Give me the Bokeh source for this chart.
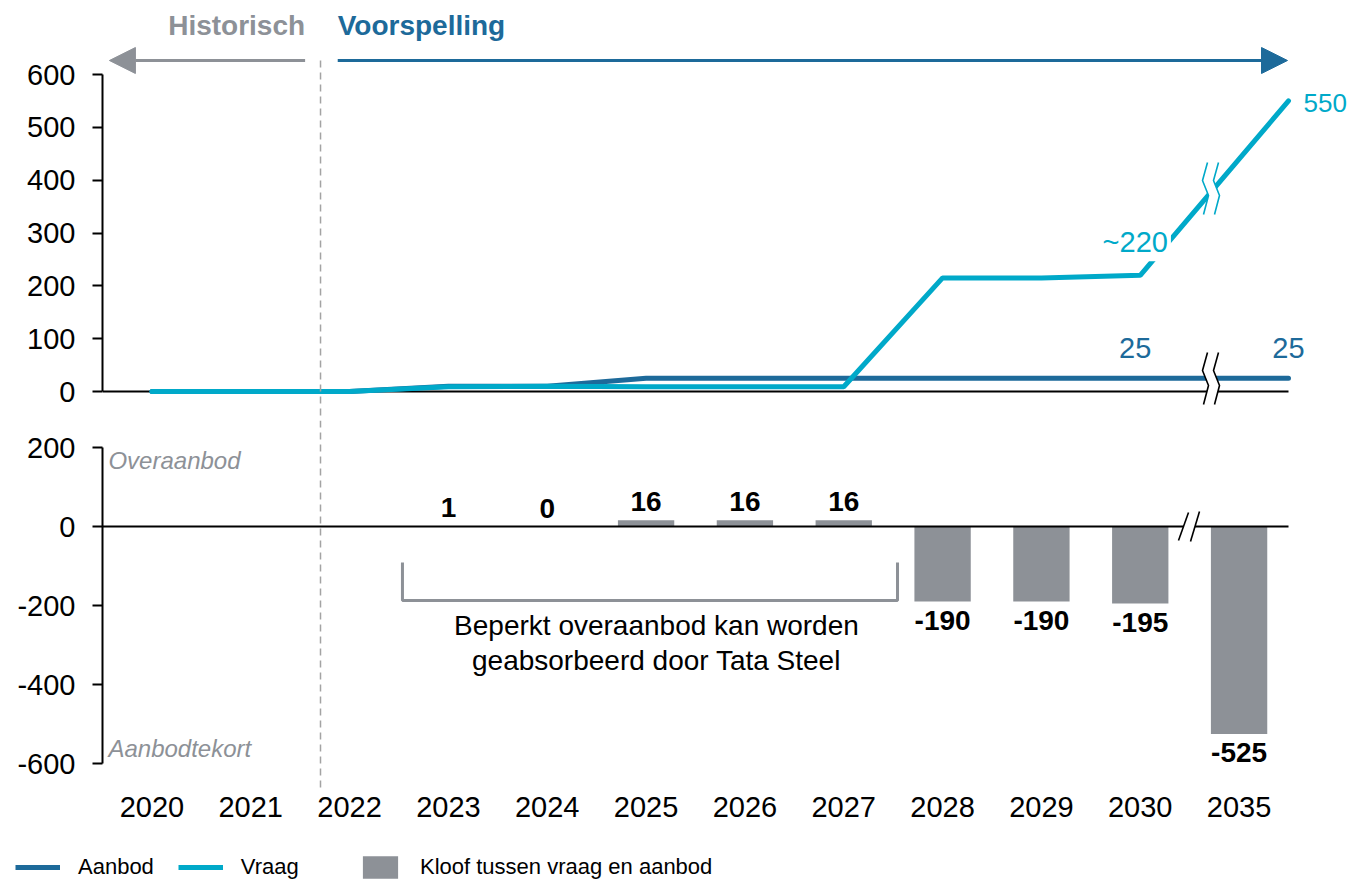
from bokeh.plotting import figure
from bokeh.models import (Range1d, FixedTicker, ColumnDataSource, Arrow,
                          NormalHead, Legend, LegendItem)
from bokeh.layouts import column
from bokeh.embed import file_html
from bokeh.resources import INLINE
from bokeh.core.properties import value

# ---------------- data ----------------
years = ["2020", "2021", "2022", "2023", "2024", "2025", "2026", "2027", "2028", "2029", "2030", "2035"]
aanbod = [0, 0, 0, 10, 10, 25, 25, 25, 25, 25, 25, 25]
vraag = [0, 0, 0, 9, 10, 9, 9, 9, 215, 215, 220, 550]
gap_years = ["2023", "2024", "2025", "2026", "2027", "2028", "2029", "2030", "2035"]
gap = [1, 0, 16, 16, 16, -190, -190, -195, -525]
top_ticks = [0, 100, 200, 300, 400, 500, 600]
bottom_ticks = [-600, -400, -200, 0, 200]
bottom_tick_labels = ["-600", "-400", "-200", "0", "200"]
end_labels = ["25", "25", "~220", "550"]

# ---------------- style ----------------
FONT = "'Liberation Sans', Arial, sans-serif"
BLUE = "#1d6a9a"
CYAN = "#00a9c9"
GRAY = "#8d9197"
DGRAY = "#a3a3a3"

W = 1347
BL = 102                      # frame left (page px)
N = len(years)
CAT = 1186 / N                # px per category
xpos = [i + 0.5 for i in range(N)]          # category centres
x_range = Range1d(0, (W - BL) / CAT)
kx = 1.0 / CAT

def base_fig(height, y_range, **kw):
    p = figure(width=W, height=height, x_range=x_range, y_range=y_range,
               output_backend="svg", toolbar_location=None,
               min_border_left=BL, min_border_right=0, min_border_top=0, **kw)
    p.outline_line_color = None
    p.xgrid.visible = False
    p.ygrid.visible = False
    p.background_fill_color = "white"
    p.border_fill_color = "white"
    return p

def style_yaxis(p, ticks, bounds):
    ax = p.yaxis[0]
    ax.ticker = FixedTicker(ticks=ticks)
    ax.bounds = bounds
    ax.axis_line_width = 2
    ax.axis_line_color = "black"
    ax.major_tick_out = 10
    ax.major_tick_in = 0
    ax.major_tick_line_width = 2
    ax.minor_tick_line_color = None
    ax.major_label_text_font = FONT
    ax.major_label_text_font_size = "29px"
    ax.major_label_text_color = "black"
    ax.major_label_standoff = 17

# ---------------- top chart ----------------
TOP_H = 420
top_ppu = (391 - 74) / 600.0          # px per unit
ky1 = 1.0 / top_ppu
y1_start = -(TOP_H - 391) * ky1
y1_end = 391 * ky1
p1 = base_fig(TOP_H, Range1d(y1_start, y1_end), min_border_bottom=0, x_axis_location=None)
style_yaxis(p1, top_ticks, (0, 600))

line_x = xpos[:-1] + [float(N)]
src_top = ColumnDataSource(dict(x=line_x, aanbod=aanbod, vraag=vraag))

p1.segment(x0=[0], y0=[0], x1=[N], y1=[0], line_color="black", line_width=2)
p1.line("x", "aanbod", source=src_top, line_color=BLUE, line_width=5, line_cap="round")
p1.line("x", "vraag", source=src_top, line_color=CYAN, line_width=5, line_cap="round")

# divider historisch / voorspelling
x_div = 2.206
y_arrow = (391 - 60) * ky1
p1.segment(x0=[x_div], y0=[y_arrow], x1=[x_div], y1=[y1_start - 10],
           line_color=DGRAY, line_width=1.5, line_dash="7 5")

p1.add_layout(Arrow(x_start=2.05, y_start=y_arrow, x_end=0.07, y_end=y_arrow,
                    line_color=GRAY, line_width=3,
                    end=NormalHead(size=26, fill_color=GRAY, line_color=GRAY)))
p1.add_layout(Arrow(x_start=2.38, y_start=y_arrow, x_end=11.99, y_end=y_arrow,
                    line_color=BLUE, line_width=3,
                    end=NormalHead(size=26, fill_color=BLUE, line_color=BLUE)))
y_head = (391 - 25) * ky1
p1.text(x=[2.05], y=[y_head], text=["Historisch"], text_align="right", text_baseline="middle",
        text_font=value(FONT), text_font_style="bold", text_font_size="28px", text_color=GRAY)
p1.text(x=[2.38], y=[y_head], text=["Voorspelling"], text_align="left", text_baseline="middle",
        text_font=value(FONT), text_font_style="bold", text_font_size="28px", text_color=BLUE)

# end labels
lab_src = ColumnDataSource(dict(
    x=[line_x[-2], line_x[-1], line_x[-2], line_x[-1]],
    y=[aanbod[-2], aanbod[-1], vraag[-2], vraag[-1]],
    text=end_labels,
    color=[BLUE, BLUE, CYAN, CYAN],
    align=["center", "center", "center", "left"],
    baseline=["bottom", "bottom", "bottom", "middle"],
    size=["29px", "29px", "29px", "26px"],
    xo=[-5, 0, -5, 12],
    yo=[-17, -17, -14, 2],
))
p1.text("x", "y", text="text", source=lab_src, text_color="color", text_align="align",
        text_baseline="baseline", x_offset="xo", y_offset="yo",
        text_font=value(FONT), text_font_size="size",
        background_fill_color="white", padding=3)

# axis breaks (top)
def zig(cx_px, cy_px):
    pts = [(2, -26), (-3, -8), (3, 7), (-2, 26)]
    xs = [(cx_px + dx - BL) * kx for dx, dy in pts]
    ys = [(391 - (cy_px + dy)) * ky1 for dx, dy in pts]
    return xs, ys

for cy, col in [(378, "black"), (188, CYAN)]:
    xa, ya = zig(1205, cy)
    xb, yb = zig(1216, cy)
    p1.patch(xa + xb[::-1], ya + yb[::-1], fill_color="white", line_color=None)
    p1.line(xa, ya, line_color=col, line_width=1.6)
    p1.line(xb, yb, line_color=col, line_width=1.6)

# ---------------- bottom chart ----------------
BOT_TOP = 420
BOT_H = 425
FRAME_BOT = 790
bot_ppu = (763 - 447) / 800.0
ky2 = 1.0 / bot_ppu
y2_end = 200 + (447 - BOT_TOP) * ky2
y2_start = -600 - (FRAME_BOT - 763) * ky2
p2 = base_fig(BOT_H, Range1d(y2_start, y2_end), min_border_bottom=BOT_TOP + BOT_H - FRAME_BOT)
style_yaxis(p2, bottom_ticks, (-600, 200))
p2.yaxis[0].major_label_overrides = dict(zip(bottom_ticks, bottom_tick_labels))

xa = p2.xaxis[0]
xa.ticker = FixedTicker(ticks=xpos)
xa.major_label_overrides = dict(zip(xpos, years))
xa.axis_line_color = None
xa.major_tick_line_color = None
xa.minor_tick_line_color = None
xa.major_label_text_font = FONT
xa.major_label_text_font_size = "29px"
xa.major_label_text_color = "black"
xa.major_label_standoff = 0

p2.vspan(x=[x_div], line_color=DGRAY, line_width=1.5, line_dash="7 5")

bar_x = [xpos[years.index(g)] for g in gap_years]
src_gap = ColumnDataSource(dict(
    x=bar_x, v=gap, lab=[str(g) for g in gap],
    base=["bottom" if g >= 0 else "top" for g in gap],
    off=[-9 if g >= 0 else 9 for g in gap],
))
p2.vbar(x="x", top="v", bottom=0, width=0.57, source=src_gap,
        fill_color=GRAY, line_color=None)
p2.segment(x0=[0], y0=[0], x1=[N], y1=[0], line_color="black", line_width=2)
p2.text("x", "v", text="lab", source=src_gap, text_baseline="base", y_offset="off",
        text_align="center", text_font=value(FONT), text_font_style="bold",
        text_font_size="28px", text_color="black")

def bx(px):
    return (px - BL) * kx
def by(py):
    return (526 - py) * ky2

# bottom break
p2.patch([bx(1178), bx(1188), bx(1199), bx(1190)], [by(540), by(512), by(511), by(541)],
         fill_color="white", line_color=None)
for x0, y0, x1, y1 in [(1178, 540, 1188, 512), (1190, 541, 1199, 511)]:
    p2.line([bx(x0), bx(x1)], [by(y0), by(y1)], line_color="black", line_width=1.6)

# italic side notes
p2.text(x=[0.06, 0.06], y=[by(460), by(748)], text=["Overaanbod", "Aanbodtekort"],
        text_align="left", text_baseline="middle", text_font=value(FONT),
        text_font_style="italic", text_font_size="24px", text_color=GRAY)

# bracket
p2.line([3.035, 3.035, 8.044, 8.044], [by(562), by(600), by(600), by(562)],
        line_color=GRAY, line_width=3)
p2.text(x=[5.605, 5.605], y=[by(625), by(660)],
        text=["Beperkt overaanbod kan worden", "geabsorbeerd door Tata Steel"],
        text_align="center", text_baseline="middle", text_font=value(FONT),
        text_font_size="28px", text_color="black")

# ---------------- legend strip ----------------
LEG_H = 36
p3 = figure(width=W, height=LEG_H, output_backend="svg", toolbar_location=None,
            x_axis_location=None, y_axis_location=None,
            x_range=Range1d(0, 1), y_range=Range1d(1000, 1001),
            min_border_left=0, min_border_right=0, min_border_top=0, min_border_bottom=0)
p3.outline_line_color = None
p3.xgrid.visible = False
p3.ygrid.visible = False
# legend proxies: the series themselves, outside this strip's visible range
r_a = p3.line(x=line_x, y=aanbod, line_color=BLUE, line_width=5)
r_v = p3.line(x=line_x, y=vraag, line_color=CYAN, line_width=5)
r_k = p3.vbar(x=bar_x, top=gap, bottom=0, width=0.57, fill_color=GRAY, line_color=None)

def mk_legend(items, loc, gw, spacing):
    return Legend(items=items, location=loc, orientation="horizontal",
                  glyph_width=gw, glyph_height=28, label_standoff=18, spacing=spacing,
                  padding=0, margin=0, border_line_color=None, background_fill_alpha=0,
                  label_text_font=FONT, label_text_font_size="22px",
                  label_text_color="black", label_height=28)

p3.add_layout(mk_legend([LegendItem(label="Aanbod", renderers=[r_a]),
                         LegendItem(label="Vraag", renderers=[r_v])], (15, 0), 45, 24))
p3.add_layout(mk_legend([LegendItem(label="Kloof tussen vraag en aanbod", renderers=[r_k])],
                        (358, 0), 44, 0))

layout = column(column(p1, p2, spacing=0), p3, spacing=0)
open("out.html", "w").write(file_html(layout, INLINE))
